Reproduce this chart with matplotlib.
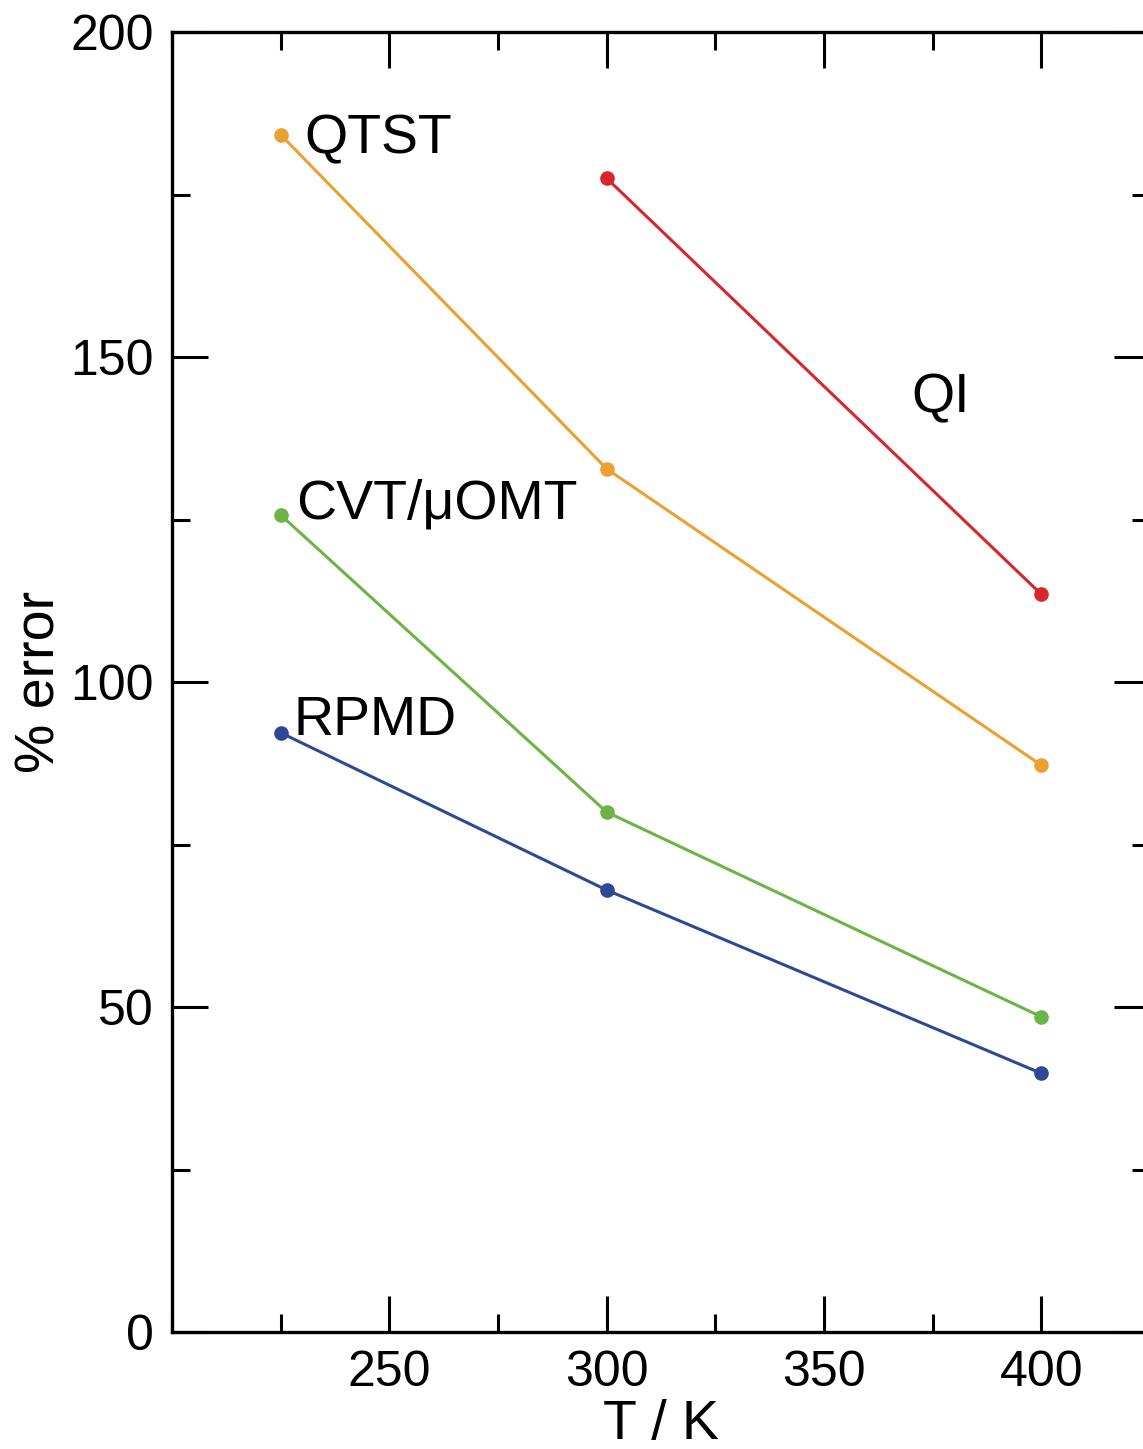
import matplotlib.pyplot as plt
from matplotlib.ticker import MultipleLocator

plt.rcParams['font.family'] = ['Liberation Sans', 'DejaVu Sans']

# Hardcoded data (% error vs temperature)
T_qtst = [225, 300, 400]
err_qtst = [184.2, 132.8, 87.2]

T_qi = [300, 400]
err_qi = [177.5, 113.5]

T_cvt = [225, 300, 400]
err_cvt = [125.7, 80.0, 48.5]

T_rpmd = [225, 300, 400]
err_rpmd = [92.2, 68.0, 39.8]

x_ticks = [250, 300, 350, 400]

# Colors
color_qtst = '#EBA032'
color_qi = '#D8262E'
color_cvt = '#6DB446'
color_rpmd = '#2F4894'

fig = plt.figure(figsize=(11.43, 14.49), dpi=100)
ax = fig.add_axes([0.1505, 0.0807, 0.8556, 0.8972])

for T, err, c in [(T_qtst, err_qtst, color_qtst), (T_qi, err_qi, color_qi),
                  (T_cvt, err_cvt, color_cvt), (T_rpmd, err_rpmd, color_rpmd)]:
    ax.plot(T, err, '-o', color=c, lw=2.2, ms=9.5, clip_on=False)

# Curve labels
ax.text(230.5, 181.4, "QTST", fontsize=40, va='baseline')
ax.text(228.5, 125.2, "CVT/\u03bcOMT", fontsize=40, va='baseline')
ax.text(228.0, 91.8, "RPMD", fontsize=40, va='baseline')
ax.text(370.0, 141.5, "QI", fontsize=40, va='baseline')

ax.set_xlim(200, 425)
ax.set_ylim(0, 200)
ax.set_xticks(x_ticks)
ax.xaxis.set_minor_locator(MultipleLocator(25))
ax.yaxis.set_major_locator(MultipleLocator(50))
ax.yaxis.set_minor_locator(MultipleLocator(25))

ax.tick_params(which='both', direction='in', top=True, right=True, width=2.2,
               labelsize=36, pad=13)
ax.tick_params(which='major', length=26)
ax.tick_params(which='minor', length=13)
for s in ax.spines.values():
    s.set_linewidth(2.4)

ax.set_xlabel("T / K", fontsize=40, labelpad=2)
ax.set_ylabel("% error", fontsize=40, labelpad=3)

fig.savefig("out.png", dpi=100)
